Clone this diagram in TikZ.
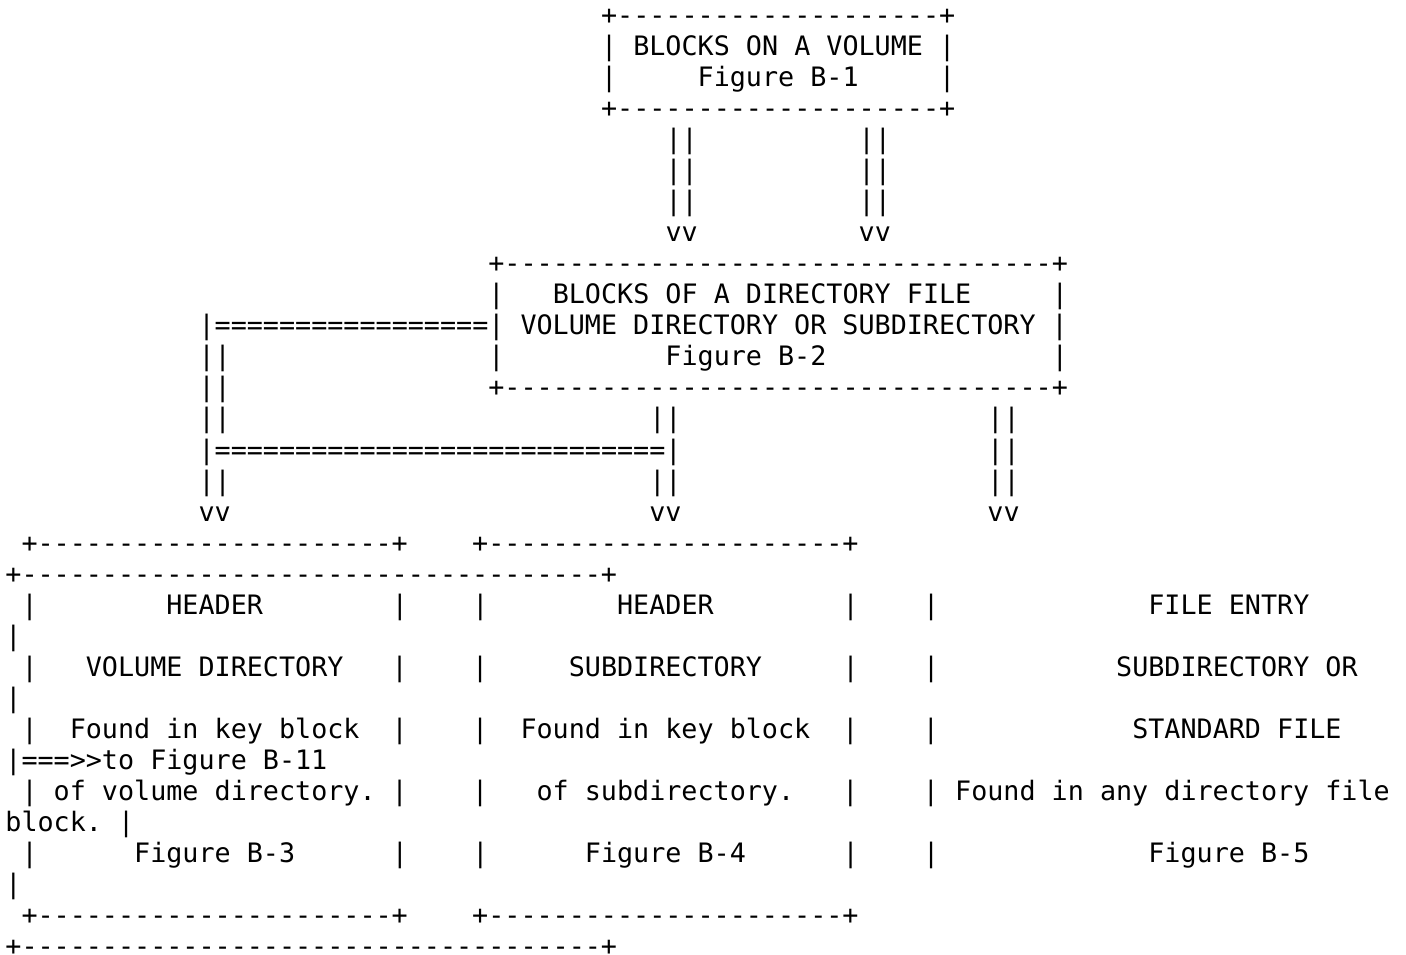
\documentclass[tikz,border=0pt]{standalone}
\usepackage{fontspec}
\setmonofont{DejaVu Sans Mono}
\newcommand{\rep}[2]{\ifnum#1>0 #2\expandafter\rep\expandafter{\number\numexpr#1-1\relax}{#2}\fi}

\begin{document}
\begin{tikzpicture}[
    x=8.05pt, y=-15.515pt,
    row/.style={anchor=base west, inner sep=0pt, font=\ttfamily\fontsize{13.37pt}{15pt}\selectfont}
]
  \useasboundingbox (-0.311,0.207) rectangle (87.02,30.984);

  % Volume box
  \node (r1) [row] at (37,1) {+\rep{20}{-}+};
  \node (r2) [row] at (37,2) {|~BLOCKS~ON~A~VOLUME~|};
  \node (r3) [row] at (37,3) {|\rep{5}{~}Figure~B-1\rep{5}{~}|};
  \node (r4) [row] at (37,4) {+\rep{20}{-}+};
  \node (r5) [row] at (41,5) {||\rep{10}{~}||};
  \node (r6) [row] at (41,6) {||\rep{10}{~}||};
  \node (r7) [row] at (41,7) {||\rep{10}{~}||};
  \node (r8) [row] at (41,8) {vv\rep{10}{~}vv};

  % Directory file box
  \node (r9) [row] at (30,9) {+\rep{34}{-}+};
  \node (r10) [row] at (30,10) {|\rep{3}{~}BLOCKS~OF~A~DIRECTORY~FILE\rep{5}{~}|};
  \node (r11) [row] at (12,11) {|\rep{17}{=}|~VOLUME~DIRECTORY~OR~SUBDIRECTORY~|};
  \node (r12) [row] at (12,12) {||\rep{16}{~}|\rep{10}{~}Figure~B-2\rep{14}{~}|};
  \node (r13) [row] at (12,13) {||\rep{16}{~}+\rep{34}{-}+};
  \node (r14) [row] at (12,14) {||\rep{26}{~}||\rep{19}{~}||};
  \node (r15) [row] at (12,15) {|\rep{28}{=}|\rep{19}{~}||};
  \node (r16) [row] at (12,16) {||\rep{26}{~}||\rep{19}{~}||};
  \node (r17) [row] at (12,17) {vv\rep{26}{~}vv\rep{19}{~}vv};

  % Header and entry boxes
  \node (r18) [row] at (1,18) {+\rep{22}{-}+\rep{4}{~}+\rep{22}{-}+};
  \node (r19) [row] at (0,19) {+\rep{36}{-}+};
  \node (r20) [row] at (1,20) {|\rep{8}{~}HEADER\rep{8}{~}|\rep{4}{~}|\rep{8}{~}HEADER\rep{8}{~}|\rep{4}{~}|\rep{13}{~}FILE~ENTRY};
  \node (r21) [row] at (0,21) {|};
  \node (r22) [row] at (1,22) {|\rep{3}{~}VOLUME~DIRECTORY\rep{3}{~}|\rep{4}{~}|\rep{5}{~}SUBDIRECTORY\rep{5}{~}|\rep{4}{~}|\rep{11}{~}SUBDIRECTORY~OR};
  \node (r23) [row] at (0,23) {|};
  \node (r24) [row] at (1,24) {|~~Found~in~key~block~~|\rep{4}{~}|~~Found~in~key~block~~|\rep{4}{~}|\rep{12}{~}STANDARD~FILE};
  \node (r25) [row] at (0,25) {|===>>to~Figure~B-11};
  \node (r26) [row] at (1,26) {|~of~volume~directory.~|\rep{4}{~}|\rep{3}{~}of~subdirectory.\rep{3}{~}|\rep{4}{~}|~Found~in~any~directory~file};
  \node (r27) [row] at (0,27) {block.~|};
  \node (r28) [row] at (1,28) {|\rep{6}{~}Figure~B-3\rep{6}{~}|\rep{4}{~}|\rep{6}{~}Figure~B-4\rep{6}{~}|\rep{4}{~}|\rep{13}{~}Figure~B-5};
  \node (r29) [row] at (0,29) {|};
  \node (r30) [row] at (1,30) {+\rep{22}{-}+\rep{4}{~}+\rep{22}{-}+};
  \node (r31) [row, text depth=0pt] at (0,31) {+\rep{36}{-}+};
\end{tikzpicture}
\end{document}
